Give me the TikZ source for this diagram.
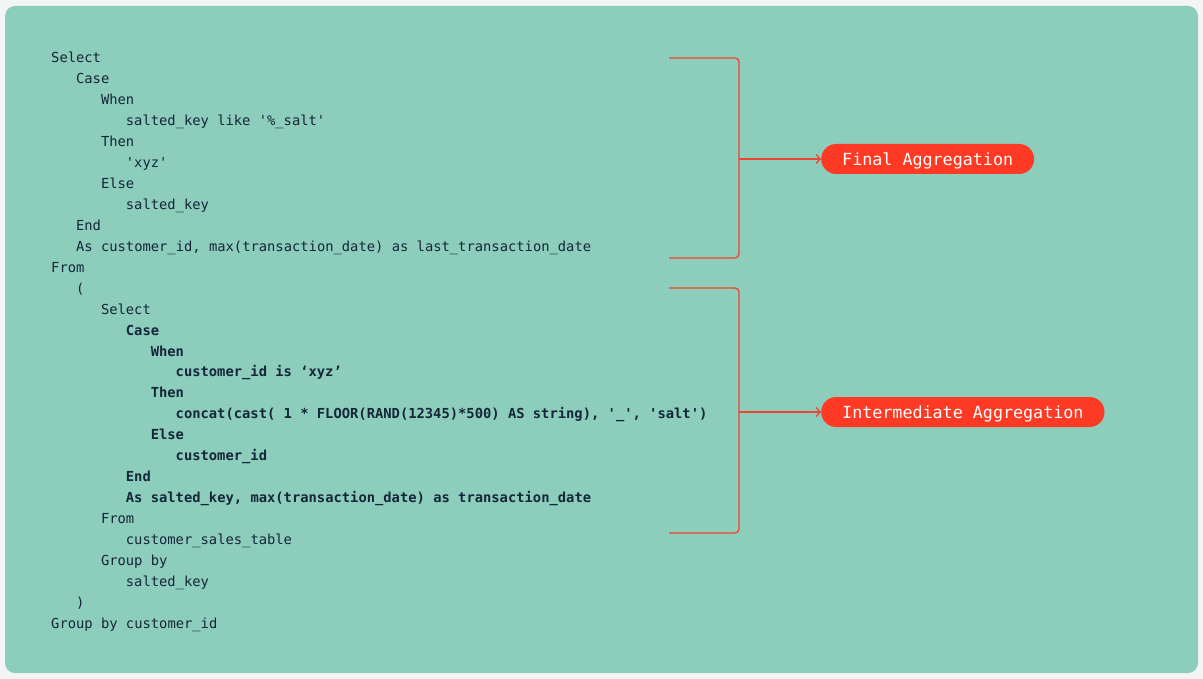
\documentclass[tikz,border=0pt]{standalone}
\usepackage{fontspec}
\setmonofont{DejaVu Sans Mono}
\usetikzlibrary{positioning, arrows.meta}

\definecolor{outerbg}{HTML}{F3F5F5}
\definecolor{panel}{HTML}{8CCDBB}
\definecolor{codeink}{HTML}{15263A}
\definecolor{wire}{HTML}{EE4530}
\definecolor{pillred}{HTML}{FF3A24}

\tikzset{
  code/.style={anchor=base west, inner sep=0pt, text=codeink,
    font=\fontsize{13.8}{16}\selectfont\ttfamily},
  bracket/.style={draw=wire, line width=1.3pt, rounded corners=4pt},
  link/.style={draw=wire, line width=1.3pt, -{Straight Barb[length=4pt,width=9pt]}},
  pill/.style={fill=pillred, text=white, rounded corners=15pt, minimum height=30pt,
    inner xsep=21pt, inner ysep=0pt, text height=12.2pt, text depth=0pt,
    font=\fontsize{16.7}{18}\selectfont\ttfamily}
}

\begin{document}
\begin{tikzpicture}[x=1pt, y=-1pt]
		\useasboundingbox (0,0) rectangle (1203,679);
		\fill[outerbg] (0,0) rectangle (1203,679);
		\fill[panel, rounded corners=10pt] (5,6) rectangle (1198,673);
		% query lines: indent level / weight / text
		\foreach \lv/\w/\txt [count=\n from 0] in {
			0/\mdseries/Select,
			1/\mdseries/Case,
			2/\mdseries/When,
			3/\mdseries/{salted\_key like '\%\_salt'},
			2/\mdseries/Then,
			3/\mdseries/{'xyz'},
			2/\mdseries/Else,
			3/\mdseries/{salted\_key},
			1/\mdseries/End,
			1/\mdseries/{As customer\_id, max(transaction\_date) as last\_transaction\_date},
			0/\mdseries/From,
			1/\mdseries/{(},
			2/\mdseries/Select,
			3/\bfseries/Case,
			4/\bfseries/When,
			5/\bfseries/{customer\_id is ‘xyz’},
			4/\bfseries/Then,
			5/\bfseries/{concat(cast( 1 * FLOOR(RAND(12345)*500) AS string), '\_', 'salt')},
			4/\bfseries/Else,
			5/\bfseries/{customer\_id},
			3/\bfseries/End,
			3/\bfseries/{As salted\_key, max(transaction\_date) as transaction\_date},
			2/\mdseries/From,
			3/\mdseries/{customer\_sales\_table},
			2/\mdseries/{Group by},
			3/\mdseries/{salted\_key},
			1/\mdseries/{)},
			0/\mdseries/{Group by customer\_id}}
			\node[code] (line\n) at (51+24.9*\lv, 63+20.93*\n) {\w\txt};
		% brackets
		\coordinate (ftop) at (669,58);
		\coordinate (fbot) at (669,258);
		\coordinate (fspine) at (739,159);
		\coordinate (itop) at (669,288);
		\coordinate (ibot) at (669,533);
		\coordinate (ispine) at (739,412);
		\draw[bracket] (ftop) -- ++(70,0) |- (fbot);
		\draw[bracket] (itop) -- ++(70,0) |- (ibot);
		\node[pill, right=82pt of fspine] (final) {Final Aggregation};
		\node[pill, right=82pt of ispine] (inter) {Intermediate Aggregation};
		\draw[link] (fspine) -- (final);
		\draw[link] (ispine) -- (inter);
\end{tikzpicture}
\end{document}
